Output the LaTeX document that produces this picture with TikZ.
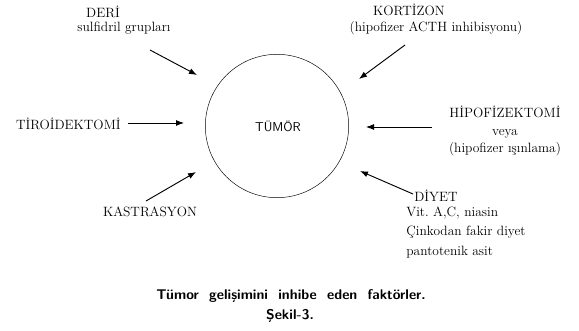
\documentclass[tikz,border=0pt]{standalone}
\usepackage{fontspec}
\usetikzlibrary{arrows.meta}

\begin{document}
\begin{tikzpicture}[x=0.03cm,y=-0.03cm,
  lbl/.style={inner sep=1pt,font=\fontsize{11.5}{15}\selectfont},
  factor/.style={thick,-{Latex[length=2.4mm,width=1.8mm]}},
  capt/.style={inner sep=1pt,font=\fontsize{12}{14}\selectfont\sffamily\bfseries}]
\useasboundingbox (0,0) rectangle (579,331);
% tumour in the middle
\node[draw,circle,minimum size=4.3cm,inner sep=0pt] (tumor) at (277,126) {};
\node[lbl,font=\fontsize{11}{13}\selectfont\sffamily] (tumortxt) at (278,126) {TÜMÖR};
% labels
\node[lbl] (deri) at (103,12) {DERİ};
\node[lbl] (derib) at (124,28) {sulfidril\ grupları};
\node[lbl] (kort) at (409,10) {KORTİZON};
\node[lbl] (kortb) at (436,28) {(hipofizer\ ACTH\ inhibisyonu)};
\node[lbl,anchor=east] (tiro) at (122,124) {TİROİDEKTOMİ};
\node[lbl,align=center] (hipo) at (505,131) {HİPOFİZEKTOMİ\\veya\\(hipofizer\ ışınlama)};
\node[lbl,anchor=west] (diyet) at (413,196) {DİYET};
\node[lbl,anchor=north west,align=left] (diyetb) at (405,205)
  {Vit.\ A,C,\ niasin\\[2pt]Çinkodan\ fakir\ diyet\\[2pt]pantotenik\ asit};
\node[lbl] (kast) at (150,212) {KASTRASYON};
% arrows
\coordinate (deriS) at (150,50);  \coordinate (deriE) at (197,75);
\coordinate (kortS) at (405,45);  \coordinate (kortE) at (359,79);
\coordinate (tiroS) at (128,123); \coordinate (tiroE) at (184,123);
\coordinate (hipoS) at (432,127); \coordinate (hipoE) at (366,127);
\coordinate (diyS) at (413,194);  \coordinate (diyE) at (360,171);
\coordinate (kastS) at (146,201); \coordinate (kastE) at (196,172);
\draw[factor] (deriS)--(deriE);
\draw[factor] (kortS)--(kortE);
\draw[factor] (tiroS)--(tiroE);
\draw[factor] (hipoS)--(hipoE);
\draw[factor] (diyS)--(diyE);
\draw[factor] (kastS)--(kastE);
% caption
\node[capt] (capt) at (291,296) {Tümor\ \ gelişimini\ \ inhibe\ \ eden\ \ faktörler.};
\node[capt] (sekil) at (290,316) {Şekil-3.};
\end{tikzpicture}
\end{document}
